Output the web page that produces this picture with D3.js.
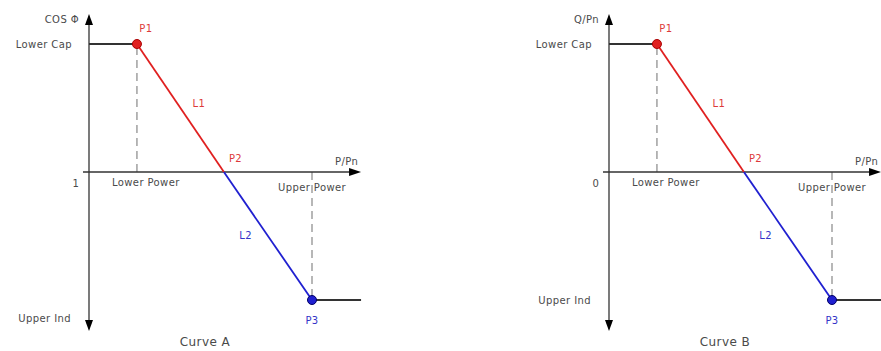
<!DOCTYPE html>
<html>
<head>
<meta charset="utf-8">
<script src="https://cdn.jsdelivr.net/npm/d3@7"></script>
<style>
  body { margin: 0; background: #fff; }
  svg { display: block; font-family: "DejaVu Sans", sans-serif; }
  text { fill: #4a4a4a; font-size: 10px; letter-spacing: 0.4px; }
</style>
</head>
<body>
<svg width="881" height="351"></svg>
<script>
// two panels, same shape, different y quantity
const curveNames = ['Curve A', 'Curve B'];
const yTitles = ['COS Φ', 'Q/Pn'];
const originLabels = ['1', '0'];
const xTitles = ['P/Pn', 'P/Pn'];
// points P1..P3 : x in P/Pn units, y in normalised setpoint (+1 = Lower Cap, -1 = Upper Ind)
const pointNames = ['P1', 'P2', 'P3'];
const pointX = [0.215, 0.605, 1.0];
const pointY = [1, 0, -1];
const segNames = ['L1', 'L2'];
const yLevelLabels = ['Lower Cap', 'Upper Ind'];
const powerLabels = ['Lower Power', 'Upper Power'];

const red = '#e02020', blue = '#2020d0', grey = '#333';
const redText = '#dd3a3a', blueText = '#3434c8';
const svg = d3.select('svg');
const panelX = [89, 609];
const upperIndDy = [22, 4]; // label sits lower in panel A than in B

function arrow(g, x, y, dir) {
  // dir: 'up', 'down', 'right'
  let pts;
  if (dir === 'up') pts = [[x, y], [x - 4, y + 11], [x + 4, y + 11]];
  else if (dir === 'down') pts = [[x, y], [x - 4, y - 11], [x + 4, y - 11]];
  else pts = [[x, y], [x - 12, y - 4], [x - 12, y + 4]];
  g.append('polygon').attr('points', pts.map(p => p.join(',')).join(' ')).attr('fill', '#000');
}

curveNames.forEach(function(name, i) {
  const ox = panelX[i];
  const x = d3.scaleLinear().domain([0, 1]).range([ox, ox + 223]);
  const y = d3.scaleLinear().domain([-1, 1]).range([300, 44]);
  const g = svg.append('g');

  // dashed guides
  [0, 2].forEach(function(k) {
    g.append('line')
      .attr('x1', x(pointX[k])).attr('x2', x(pointX[k]))
      .attr('y1', y(0)).attr('y2', y(pointY[k]))
      .attr('stroke', '#888').attr('stroke-width', 1.2).attr('stroke-dasharray', '8,5');
  });

  // axes
  g.append('line').attr('x1', ox).attr('x2', ox).attr('y1', 20).attr('y2', 325)
    .attr('stroke', grey).attr('stroke-width', 1.3);
  arrow(g, ox, 14, 'up');
  arrow(g, ox, 331, 'down');
  g.append('line').attr('x1', ox - 6).attr('x2', x(1.2)).attr('y1', y(0)).attr('y2', y(0))
    .attr('stroke', grey).attr('stroke-width', 1.3);
  arrow(g, x(1.22), y(0), 'right');

  // flat limits
  g.append('line').attr('x1', x(0)).attr('x2', x(pointX[0])).attr('y1', y(1)).attr('y2', y(1))
    .attr('stroke', grey).attr('stroke-width', 1.8);
  g.append('line').attr('x1', x(pointX[2])).attr('x2', x(1.22)).attr('y1', y(-1)).attr('y2', y(-1))
    .attr('stroke', grey).attr('stroke-width', 1.8);

  // sloped segments
  const segColors = [red, blue];
  segColors.forEach(function(c, k) {
    g.append('line')
      .attr('x1', x(pointX[k])).attr('y1', y(pointY[k]))
      .attr('x2', x(pointX[k + 1])).attr('y2', y(pointY[k + 1]))
      .attr('stroke', c).attr('stroke-width', 1.8);
  });

  // end points
  g.append('circle').attr('cx', x(pointX[0])).attr('cy', y(pointY[0])).attr('r', 4.5)
    .attr('fill', red).attr('stroke', '#a00').attr('stroke-width', 1);
  g.append('circle').attr('cx', x(pointX[2])).attr('cy', y(pointY[2])).attr('r', 4.5)
    .attr('fill', blue).attr('stroke', '#006').attr('stroke-width', 1);

  // point labels
  g.append('text').attr('x', x(pointX[0]) + 9).attr('y', y(pointY[0]) - 12)
    .attr('text-anchor', 'middle').style('fill', redText).text(pointNames[0]);
  g.append('text').attr('x', x(pointX[1]) + 5).attr('y', y(pointY[1]) - 10)
    .style('fill', redText).text(pointNames[1]);
  g.append('text').attr('x', x(pointX[2])).attr('y', y(pointY[2]) + 24)
    .attr('text-anchor', 'middle').style('fill', blueText).text(pointNames[2]);
  g.append('text').attr('x', (x(pointX[0]) + x(pointX[1])) / 2 + 12).attr('y', y(0.5) - 1)
    .style('fill', redText).text(segNames[0]);
  g.append('text').attr('x', (x(pointX[1]) + x(pointX[2])) / 2 - 16).attr('y', y(-0.5) + 3)
    .attr('text-anchor', 'end').style('fill', blueText).text(segNames[1]);

  // axis labels
  g.append('text').attr('x', ox - 10).attr('y', 23).attr('text-anchor', 'end').text(yTitles[i]);
  g.append('text').attr('x', ox - 17).attr('y', y(1) + 4).attr('text-anchor', 'end').text(yLevelLabels[0]);
  g.append('text').attr('x', ox - 18).attr('y', y(-1) + upperIndDy[i]).attr('text-anchor', 'end').text(yLevelLabels[1]);
  g.append('text').attr('x', ox - 13).attr('y', y(0) + 15).attr('text-anchor', 'middle').text(originLabels[i]);
  g.append('text').attr('x', ox + 246).attr('y', y(0) - 7).text(xTitles[i]);
  g.append('text').attr('x', x(pointX[0]) - 25).attr('y', y(0) + 14).text(powerLabels[0]);
  g.append('text').attr('x', x(pointX[2]) - 34).attr('y', y(0) + 19).text(powerLabels[1]);

  g.append('text').attr('x', x(0.52)).attr('y', 346).attr('text-anchor', 'middle')
    .style('font-size', '12px').text(name);
});
</script>
</body>
</html>
